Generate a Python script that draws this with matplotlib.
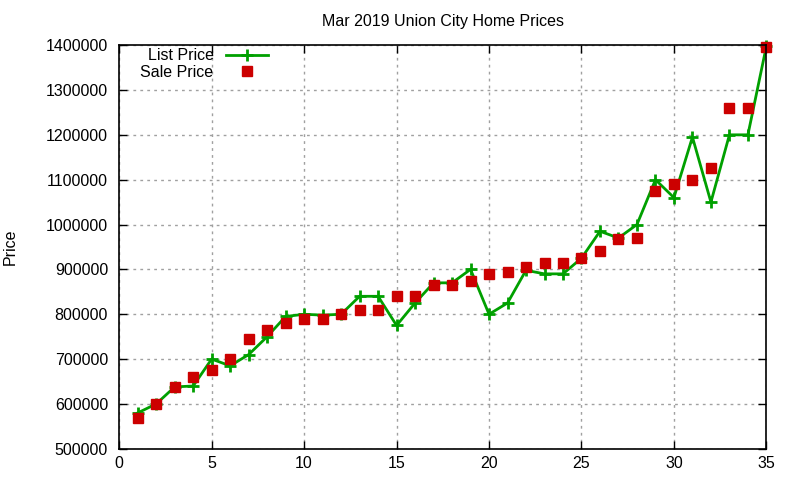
import matplotlib.pyplot as plt

plt.rcParams['font.family'] = ['Liberation Sans', 'DejaVu Sans']

# house index and prices
house = list(range(1, 36))
list_price = [580000, 600000, 638000, 640000, 700000, 685000, 710000, 750000, 795000, 800000,
              798000, 800000, 840000, 840000, 775000, 825000, 870000, 870000, 900000, 800000,
              825000, 898000, 890000, 890000, 925000, 985000, 970000, 1000000, 1100000, 1060000,
              1195000, 1050000, 1200000, 1200000, 1398000]
sale_price = [568000, 600000, 638000, 660000, 675000, 700000, 745000, 765000, 780000, 790000,
              790000, 800000, 810000, 810000, 840000, 840000, 865000, 865000, 875000, 890000,
              895000, 905000, 915000, 915000, 925000, 940000, 968000, 970000, 1075000, 1090000,
              1100000, 1125000, 1260000, 1260000, 1395000]

fig = plt.figure(figsize=(8, 4.8), dpi=100)
ax = fig.add_axes([0.149, 0.065, 0.809, 0.841])

ax.plot(house, list_price, color='#00a000', lw=2, marker='+', ms=9, mew=2,
        label='List Price', clip_on=False)
ax.plot(house, sale_price, ls='none', color='#cc0000', marker='s', ms=7,
        label='Sale Price', clip_on=False)

ax.set_xlim(0, 35)
ax.set_ylim(500000, 1400000)
ax.set_xticks(range(0, 36, 5))
ax.set_yticks(range(500000, 1400001, 100000))
ax.ticklabel_format(style='plain', axis='y', useOffset=False)
ax.tick_params(direction='in', top=True, right=True, labelsize=11.5, length=6, width=1)
ax.tick_params(axis='y', pad=8)
ax.tick_params(axis='x', pad=5)
ax.grid(True, ls=(0, (2, 3)), color='#a0a0a0', lw=1)
for s in ax.spines.values():
    s.set_linewidth(1.2)

ax.set_title('Mar 2019 Union City Home Prices', fontsize=11.5, pad=14)
ax.set_ylabel('Price', fontsize=11.5, labelpad=20)

ax.legend(loc='upper left', frameon=False, markerfirst=False, fontsize=11.5,
          handlelength=2.6, borderaxespad=0.2, labelspacing=0.1,
          bbox_to_anchor=(0.018, 1.016))

fig.savefig('out.png', dpi=100)
